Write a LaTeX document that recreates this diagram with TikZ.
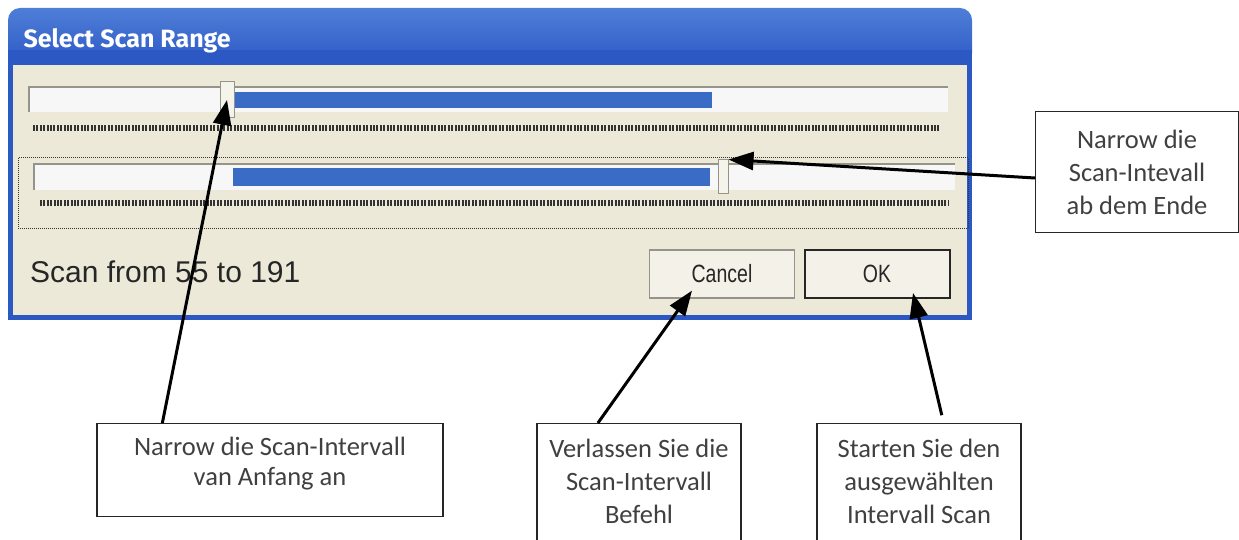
\documentclass[tikz,border=0pt]{standalone}
\usepackage{graphicx}
\usepackage{fontspec}
\setmainfont{Carlito}
\newfontfamily\uifont{Liberation Sans}
\newfontfamily\titlefont{Fira Sans}
\usetikzlibrary{arrows.meta,calc}
\definecolor{xpblue}{RGB}{44,88,196}
\definecolor{titletop}{RGB}{78,126,216}
\definecolor{clientbg}{RGB}{236,233,216}
\definecolor{barblue}{RGB}{58,108,198}
\definecolor{trackedge}{RGB}{150,148,138}

\newcommand{\btntext}[1]{\scalebox{0.78}[1]{#1}}

\tikzset{
  callout/.style={draw=black!85, line width=1.3pt, fill=white, align=center,
    inner sep=0pt, text=black!75, font=\fontsize{26.5}{33}\selectfont},
  calltext/.style={align=center, text=black!75, font=\fontsize{26.5}{33}\selectfont},
  pointer/.style={line width=3pt, -{Triangle[length=25pt,width=18pt]}},
  thumb/.style={fill=clientbg!50!white, draw=trackedge, line width=1pt,
    inner sep=0pt},
  button/.style={fill=clientbg!60!white, draw=trackedge, line width=1.2pt,
    minimum width=145pt, minimum height=48pt, inner sep=0pt,
    font=\uifont\fontsize{25}{30}\selectfont, text=black!85},
  ticks/.style={draw=black!80, line width=6pt, dash pattern=on 2pt off 1.4pt}
}

\begin{document}
\begin{tikzpicture}[x=1pt,y=-1pt]
  \useasboundingbox (0,0) rectangle (1239,540);
  % window frame and title bar
  \fill[xpblue] (8,40) rectangle (972,320);
  \shade[top color=titletop, bottom color=xpblue, rounded corners=12pt]
    (8,8) rectangle (972,66);
  \fill[xpblue] (8,50) rectangle (972,66);
  \fill[clientbg] (13,65) rectangle (967,315);
  \node[anchor=base west, text=white, font=\titlefont\bfseries\fontsize{25}{30}\selectfont]
    (title) at (20,48) {Select Scan Range};

  % first slider
  \fill[white!97!black] (28,86) rectangle (948,112);
  \draw[trackedge, line width=2.5pt] (28,87) -- (948,87) (29,87) -- (29,112);
  \fill[barblue] (235,92) rectangle (712,108);
  \node[thumb, minimum width=14pt, minimum height=36pt] (thumbA) at (227,100) {};
  \draw[ticks] (33,128) -- (940,128);

  % second slider (focused)
  \draw[black!80, densely dotted, line width=1pt] (18,158) rectangle (968,228);
  \fill[white!97!black] (33,163) rectangle (955,190);
  \draw[trackedge, line width=2.5pt] (33,164) -- (955,164) (34,164) -- (34,190);
  \fill[barblue] (233,168) rectangle (710,186);
  \node[thumb, minimum width=10pt, minimum height=34pt] (thumbB) at (723,177) {};
  \draw[ticks] (40,203) -- (948,203);

  % status text and buttons
  \node[anchor=base west, inner sep=0pt, text=black!85,
    font=\uifont\fontsize{30}{36}\selectfont] (range) at (30,282) {Scan from 55 to 191};
  \node[button] (cancel) at (722,274) {\btntext{Cancel}};
  \node[button, draw=black!85, line width=2pt] (okbtn) at (877,274) {\btntext{OK}};

  % callouts
  \node[callout, minimum width=346pt, minimum height=93pt, anchor=north,
    label={[calltext, font=\fontsize{26.5}{30}\selectfont, anchor=north, yshift=-11pt]north:{Narrow die Scan-Intervall\\van Anfang an}}]
    (startbox) at (270,423) {};
  \node[callout, minimum width=203pt, minimum height=121pt] (endbox) at (1137,172)
    {Narrow die\\Scan-Intevall\\ab dem Ende};
  \node[callout, minimum width=204pt, minimum height=140pt, anchor=north,
    label={[calltext, anchor=north, yshift=-13pt]north:{Verlassen Sie die\\Scan-Intervall\\Befehl}}]
    (cancelbox) at (639,423) {};
  \node[callout, minimum width=204pt, minimum height=140pt, anchor=north,
    label={[calltext, anchor=north, yshift=-13pt]north:{Starten Sie den\\ausgewählten\\Intervall Scan}}]
    (okbox) at (919,423) {};

  % pointers
  \draw[pointer] ($(startbox.north west)!0.19!(startbox.north east)$) -- (thumbA.center);
  \draw[pointer] ($(endbox.west)+(0,6)$) -- (thumbB.north east);
  \draw[pointer] ($(cancelbox.north west)!0.3!(cancelbox.north east)$) -- ($(cancel.south)+(-30,-8)$);
  \draw[pointer, shorten <=8pt] ($(okbox.north west)!0.62!(okbox.north east)$) -- ($(okbtn.south)+(36,-6)$);
\end{tikzpicture}
\end{document}
